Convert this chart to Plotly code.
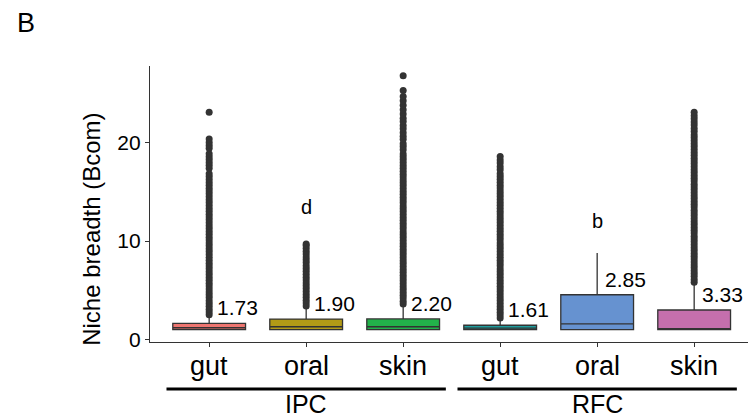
import plotly.graph_objects as go

# Niche breadth (Bcom) per habitat, split by IPC / RFC
groups = ["IPC", "IPC", "IPC", "RFC", "RFC", "RFC"]
habitats = ["gut", "oral", "skin", "gut", "oral", "skin"]
colors = ["#EE7570", "#B39B16", "#22B34A", "#1E9E9F", "#6692D0", "#C56FAD"]

q1 = [1.00, 1.00, 1.00, 1.00, 1.00, 1.00]
median = [1.20, 1.30, 1.30, 1.15, 1.60, 1.10]
q3 = [1.65, 2.08, 2.10, 1.45, 4.55, 3.00]
lower_fence = [1.00, 1.00, 1.00, 1.00, 1.00, 1.00]
upper_fence = [2.40, 3.30, 3.50, 2.10, 8.80, 5.70]
mean_labels = ["1.73", "1.90", "2.20", "1.61", "2.85", "3.33"]

# significance letters (habitat index, letter, height)
sig_pos = [2, 5]
sig_text = ["d", "b"]
sig_y = [13.5, 12.0]

outliers_ipc_gut = [2.52, 2.81, 3.07, 3.38, 3.66, 3.95, 4.27, 4.55, 4.82, 5.14, 5.43, 5.71,
                    6.02, 6.30, 6.61, 6.88, 7.19, 7.47, 7.76, 8.05, 8.36, 8.63, 8.94, 9.22,
                    9.53, 9.81, 10.12, 10.40, 10.71, 10.98, 11.29, 11.57, 11.86, 12.17, 12.45,
                    12.74, 13.05, 13.33, 13.62, 13.93, 14.21, 14.50, 14.81, 15.09, 15.38,
                    15.69, 15.97, 16.26, 16.57, 16.85, 17.42, 17.71, 17.99, 18.30, 18.58,
                    18.87, 19.45, 19.73, 20.02, 20.38, 23.10]
outliers_ipc_oral = [3.42, 3.71, 3.99, 4.30, 4.58, 4.87, 5.18, 5.46, 5.75, 6.06, 6.34, 6.63,
                     6.94, 7.22, 7.51, 7.82, 8.10, 8.39, 8.70, 8.98, 9.27, 9.55, 9.70]
outliers_ipc_skin = [3.62, 3.90, 4.21, 4.49, 4.78, 5.09, 5.37, 5.66, 5.97, 6.25, 6.54, 6.85,
                     7.13, 7.42, 7.73, 8.01, 8.30, 8.61, 8.89, 9.18, 9.49, 9.77, 10.06, 10.37,
                     10.65, 10.94, 11.25, 11.53, 11.82, 12.13, 12.41, 12.70, 13.01, 13.29,
                     13.58, 13.89, 14.17, 14.46, 14.77, 15.05, 15.34, 15.65, 15.93, 16.22,
                     16.53, 16.81, 17.10, 17.41, 17.69, 17.98, 18.29, 18.57, 18.86, 19.30,
                     19.62, 19.91, 20.35, 20.66, 21.02, 21.43, 21.75, 22.16, 22.50, 22.92,
                     23.35, 23.80, 24.26, 24.70, 25.30, 26.80]
outliers_rfc_gut = [2.20, 2.49, 2.78, 3.09, 3.37, 3.66, 3.97, 4.25, 4.54, 4.85, 5.13, 5.42,
                    5.73, 6.01, 6.30, 6.61, 6.89, 7.18, 7.49, 7.77, 8.06, 8.37, 8.65, 8.94,
                    9.25, 9.53, 9.82, 10.13, 10.41, 10.70, 11.01, 11.29, 11.58, 11.89, 12.17,
                    12.46, 12.77, 13.05, 13.34, 13.65, 13.93, 14.22, 14.53, 14.81, 15.10,
                    15.41, 15.69, 15.98, 16.29, 16.57, 16.86, 17.25, 17.55, 17.95, 18.25,
                    18.60]
outliers_rfc_oral = []
outliers_rfc_skin = [5.82, 6.11, 6.42, 6.70, 6.99, 7.30, 7.58, 7.87, 8.18, 8.46, 8.75, 9.06,
                     9.34, 9.63, 9.94, 10.22, 10.51, 10.82, 11.10, 11.39, 11.70, 11.98, 12.27,
                     12.58, 12.86, 13.15, 13.46, 13.74, 14.03, 14.34, 14.62, 14.91, 15.22,
                     15.50, 15.79, 16.10, 16.38, 16.67, 16.98, 17.26, 17.55, 17.86, 18.14,
                     18.43, 18.74, 19.02, 19.31, 19.62, 19.90, 20.20, 20.50, 20.80, 21.15,
                     21.45, 21.80, 22.10, 22.45, 22.75, 23.10]
outliers = [outliers_ipc_gut, outliers_ipc_oral, outliers_ipc_skin,
            outliers_rfc_gut, outliers_rfc_oral, outliers_rfc_skin]

FONT = "Liberation Sans, Arial, sans-serif"
INK = "#333333"
positions = list(range(1, len(habitats) + 1))

fig = go.Figure()

for i, pos in enumerate(positions):
    fig.add_trace(go.Box(
        x=[pos], q1=[q1[i]], median=[median[i]], q3=[q3[i]],
        lowerfence=[lower_fence[i]], upperfence=[upper_fence[i]],
        width=0.75, whiskerwidth=0, boxpoints=False,
        fillcolor=colors[i], line=dict(color=INK, width=1.3),
        hoverinfo="skip", showlegend=False,
    ))
    if outliers[i]:
        fig.add_trace(go.Scatter(
            x=[pos] * len(outliers[i]), y=outliers[i], mode="markers",
            marker=dict(size=7, color=INK, line=dict(width=0)),
            hoverinfo="skip", showlegend=False,
        ))

annotations = []
# mean values beside each box
for i, pos in enumerate(positions):
    annotations.append(dict(
        x=pos + 0.06, y=q3[i], xref="x", yref="y", text=mean_labels[i],
        showarrow=False, xanchor="left", yanchor="bottom", yshift=2,
        font=dict(family=FONT, size=21, color="black"),
    ))
for k, idx in enumerate(sig_pos):
    annotations.append(dict(
        x=positions[idx - 1], y=sig_y[k], xref="x", yref="y", text=sig_text[k],
        showarrow=False, xanchor="center", yanchor="middle",
        font=dict(family=FONT, size=20, color="black"),
    ))

# habitat labels under the axis
for pos, name in zip(positions, habitats):
    annotations.append(dict(
        x=pos, y=-0.026, xref="x", yref="paper", text=name, showarrow=False,
        xanchor="center", yanchor="top",
        font=dict(family=FONT, size=27, color="black"),
    ))

# group brackets under the habitat labels
group_names = ["IPC", "RFC"]
shapes = []
for g in group_names:
    members = [p for p, gg in zip(positions, groups) if gg == g]
    center = sum(members) / len(members)
    shapes.append(dict(
        type="line", xref="x", yref="paper",
        x0=center - 1.44, x1=center + 1.44, y0=-0.170, y1=-0.170,
        line=dict(color="black", width=3),
    ))
    annotations.append(dict(
        x=center, y=-0.2717, xref="x", yref="paper", text=g, showarrow=False,
        xanchor="center", yanchor="bottom", yshift=-3,
        font=dict(family=FONT, size=25, color="black"),
    ))

annotations.append(dict(
    x=-0.097, y=0.41, xref="paper", yref="paper", text="Niche breadth (Bcom)",
    textangle=-90, showarrow=False, xanchor="center", yanchor="middle",
    font=dict(family=FONT, size=24, color="black"),
))
annotations.append(dict(
    x=-0.207, y=1.156, xref="paper", yref="paper", text="B", showarrow=False,
    xanchor="center", yanchor="middle",
    font=dict(family=FONT, size=27, color="black"),
))

fig.update_layout(
    width=748, height=417,
    margin=dict(l=150, r=0, t=66, b=75),
    paper_bgcolor="white", plot_bgcolor="white",
    annotations=annotations, shapes=shapes,
    xaxis=dict(
        range=[0.39, 6.555], tickvals=positions, ticktext=[""] * len(positions),
        showline=True, linecolor=INK, linewidth=1.2,
        ticks="outside", ticklen=4, tickcolor=INK, tickwidth=1,
        showgrid=False, zeroline=False,
    ),
    yaxis=dict(
        range=[-0.25, 27.8], tickvals=[0, 10, 20],
        showline=True, linecolor=INK, linewidth=1.2,
        ticks="outside", ticklen=4, tickcolor=INK, tickwidth=1,
        showgrid=False, zeroline=False,
        tickfont=dict(family=FONT, size=21, color="black"),
    ),
)

fig.write_html("out.html")
